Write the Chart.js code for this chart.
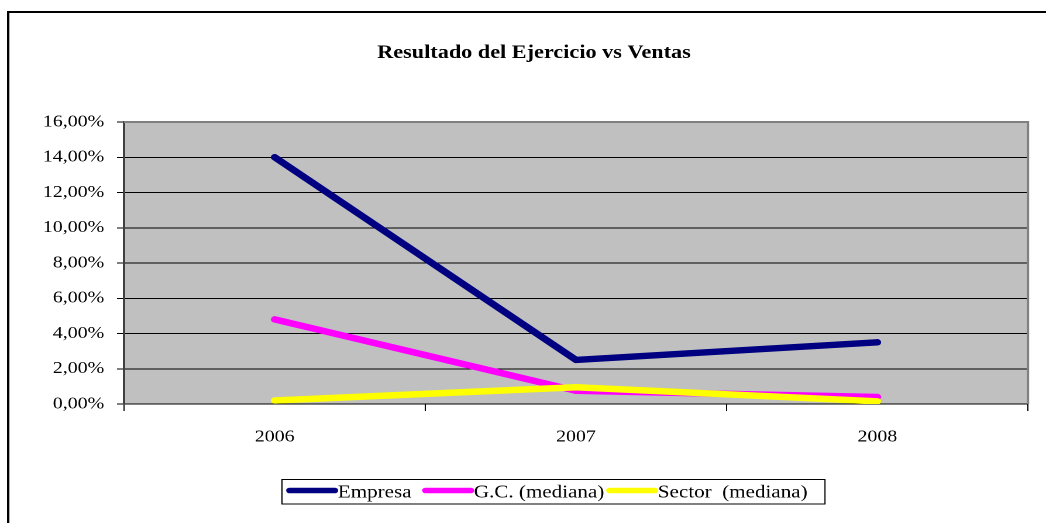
<!DOCTYPE html>
<html>
<head>
<meta charset="utf-8">
<script src="https://cdn.jsdelivr.net/npm/chart.js@4"></script>
<style>
  html, body { margin: 0; padding: 0; background: #ffffff; overflow: hidden; }
  #wrap { position: absolute; left: 0; top: 0; width: 894px; height: 523px; transform: scaleX(1.17002); transform-origin: 0 0; }
</style>
</head>
<body>
<div id="wrap"><canvas id="c"></canvas></div>
<script>
// ---- data ----
const chartTitle = 'Resultado del Ejercicio vs Ventas';
const categories = ['2006', '2007', '2008'];
const seriesNames = ['Empresa', 'G.C. (mediana)', 'Sector  (mediana)'];
const empresa = [14.0, 2.5, 3.5];
const gcMediana = [4.8, 0.75, 0.4];
const sectorMediana = [0.2, 0.95, 0.15];
const yTickLabels = ['0,00%', '2,00%', '4,00%', '6,00%', '8,00%', '10,00%', '12,00%', '14,00%', '16,00%'];
const seriesColors = ['#000080', '#FF00FF', '#FFFF00'];

const FONT = '"Liberation Serif", "Times New Roman", serif';

const framePlugin = {
  id: 'frame',
  beforeDraw(chart) {
    const { ctx, chartArea: a } = chart;
    ctx.save();
    ctx.fillStyle = '#C0C0C0';
    ctx.fillRect(a.left, a.top, a.right - a.left, a.bottom - a.top);
    ctx.restore();
  },
  afterDraw(chart) {
    const { ctx, chartArea: a } = chart;
    ctx.save();
    // plot frame (gray top/right)
    ctx.strokeStyle = '#808080';
    ctx.lineWidth = 2;
    ctx.beginPath();
    ctx.moveTo(a.left, a.top);
    ctx.lineTo(a.right, a.top);
    ctx.lineTo(a.right, a.bottom);
    ctx.stroke();
    // outer chart border
    ctx.strokeStyle = '#000000';
    ctx.lineWidth = 2;
    ctx.strokeRect(7, 12, 3000, 3000);
    // title
    ctx.fillStyle = '#000000';
    ctx.font = 'bold 19px ' + FONT;
    ctx.textAlign = 'center';
    ctx.textBaseline = 'alphabetic';
    ctx.fillText(chartTitle, 456.4, 58);
    // legend
    const bx = 241.0, by = 479.5, bw = 464.1, bh = 24.5;
    ctx.lineWidth = 1;
    ctx.strokeStyle = '#000000';
    ctx.strokeRect(bx, by, bw, bh);
    ctx.font = '18px ' + FONT;
    ctx.textAlign = 'left';
    const sampleStarts = [245.3, 361.5, 518.8];
    chart.data.datasets.forEach((ds, i) => {
      const sx = sampleStarts[i];
      ctx.strokeStyle = ds.borderColor;
      ctx.lineWidth = 5.5;
      ctx.lineCap = 'round';
      ctx.beginPath();
      ctx.moveTo(sx + 2, 490.5);
      ctx.lineTo(sx + 41, 490.5);
      ctx.stroke();
      ctx.fillStyle = '#000000';
      ctx.fillText(ds.label, sx + 43.5, 497.5);
    });
    ctx.restore();
  }
};

const mk = (i, data, order) => ({
  label: seriesNames[i],
  data: data,
  borderColor: seriesColors[i],
  backgroundColor: seriesColors[i],
  borderWidth: 6.5,
  borderCapStyle: 'round',
  borderJoinStyle: 'round',
  pointRadius: 0,
  pointHoverRadius: 0,
  tension: 0,
  fill: false,
  order: order
});

new Chart(document.getElementById('c'), {
  type: 'line',
  data: {
    labels: categories,
    datasets: [mk(0, empresa, 2), mk(1, gcMediana, 1), mk(2, sectorMediana, 0)]
  },
  options: {
    responsive: true,
    maintainAspectRatio: false,
    animation: false,
    devicePixelRatio: 2,
    layout: { padding: { top: 122, right: 15.4, bottom: 0, left: 0 } },
    plugins: {
      legend: { display: false },
      title: { display: false },
      tooltip: { enabled: false }
    },
    scales: {
      x: {
        type: 'category',
        offset: true,
        afterFit(s) { s.height = 119; },
        grid: { offset: true, drawOnChartArea: false, drawTicks: true, tickLength: 7, color: '#000000', lineWidth: 1 },
        border: { display: true, color: '#000000', width: 1 },
        ticks: { color: '#000000', font: { family: FONT, size: 17 }, padding: 16, maxRotation: 0 }
      },
      y: {
        min: 0,
        max: 16,
        afterFit(s) { s.width = 106; },
        afterBuildTicks(s) { s.ticks = yTickLabels.map((t, i) => ({ value: i * 2 })); },
        grid: { drawOnChartArea: true, drawTicks: true, tickLength: 6, color: '#000000', lineWidth: 1 },
        border: { display: true, color: '#404040', width: 2 },
        ticks: {
          color: '#000000',
          font: { family: FONT, size: 17 },
          padding: 11,
          callback: (v, i) => yTickLabels[i]
        }
      }
    }
  },
  plugins: [framePlugin]
});
</script>
</body>
</html>
